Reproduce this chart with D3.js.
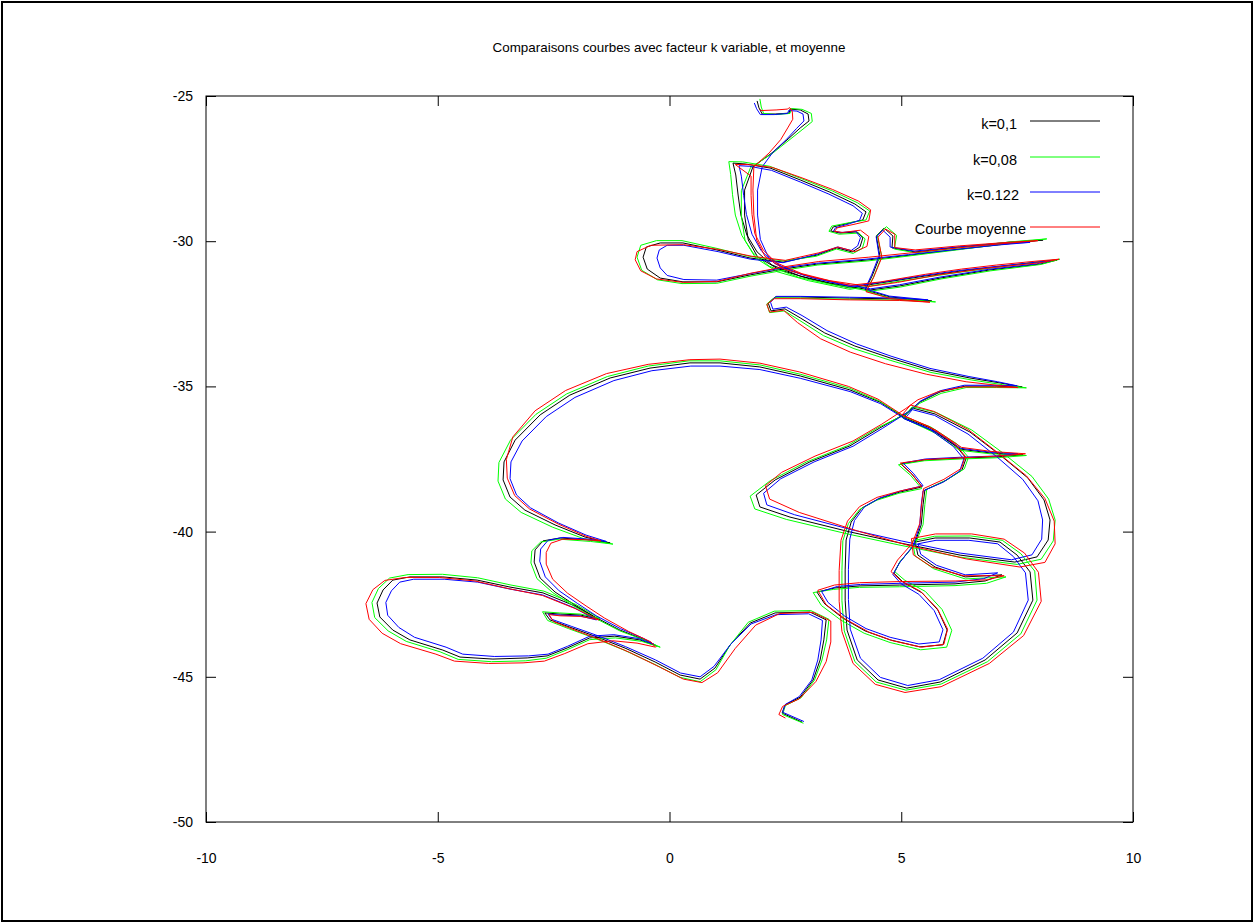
<!DOCTYPE html>
<html>
<head>
<meta charset="utf-8">
<script src="https://cdn.jsdelivr.net/npm/d3@7"></script>
<style>
  body { margin: 0; background: #fff; }
  svg { display: block; }
  text { font-family: "Liberation Sans", Arial, sans-serif; fill: #000; }
</style>
</head>
<body>
<svg id="chart" width="1254" height="923"></svg>
<script>
// Axis ticks
const xTicks = [-10, -5, 0, 5, 10];
const yTicks = [-25, -30, -35, -40, -45, -50];

// Trajectory, k = 0,1
const curveK010 = [
  [1.89,-25.17],[1.93,-25.41],[2.00,-25.62],[2.28,-25.62],[2.58,-25.59],[2.60,-25.45],[2.82,-25.48],[2.99,-25.62],[3.01,-25.86],[2.82,-26.10],
  [2.56,-26.48],[2.21,-26.96],[1.80,-27.44],[1.62,-28.24],[1.62,-29.10],[1.70,-29.96],[1.90,-30.54],[2.38,-30.99],[3.03,-31.30],[3.89,-31.61],
  [4.54,-31.44],[5.51,-31.20],[6.27,-31.03],[7.02,-30.89],[7.78,-30.75],[8.36,-30.65],[7.99,-30.79],[6.91,-30.99],[5.84,-31.27],[4.97,-31.54],[4.33,-31.68],
  [3.46,-31.44],[2.82,-31.20],[2.21,-30.82],[1.89,-30.37],[1.67,-29.79],[1.54,-29.10],[1.48,-28.41],[1.43,-27.72],[1.37,-27.31],[1.63,-27.34],
  [2.17,-27.48],[2.82,-27.89],[3.46,-28.31],[4.00,-28.72],[4.24,-28.99],[4.17,-29.27],[3.89,-29.37],[3.53,-29.51],[3.48,-29.65],[3.68,-29.72],
  [4.05,-29.68],[4.17,-29.89],[4.11,-30.20],[3.94,-30.37],[3.61,-30.23],[3.18,-30.48],
  [2.45,-30.72],[1.74,-30.58],[1.02,-30.30],[0.29,-30.06],[-0.20,-30.06],[-0.50,-30.20],[-0.57,-30.55],[-0.48,-30.96],[-0.20,-31.27],[0.29,-31.40],
  [1.02,-31.40],[1.74,-31.16],[2.45,-30.96],[3.18,-30.79],[4.26,-30.65],[5.19,-30.48],[6.27,-30.27],[7.24,-30.10],[8.06,-29.96],[7.35,-30.03],
  [6.27,-30.20],[5.30,-30.37],[4.80,-30.23],[4.82,-29.82],[4.63,-29.55],[4.46,-29.82],[4.54,-30.51],[4.37,-31.20],[4.22,-31.68],
  [4.76,-31.92],[5.66,-32.06],[4.97,-31.99],[3.89,-31.96],[2.82,-31.92],[2.28,-31.92],[2.13,-32.13],[2.19,-32.40],[2.49,-32.33],[2.82,-32.64],
  [3.35,-33.16],[4.00,-33.61],[4.76,-34.02],[5.62,-34.44],[6.48,-34.71],[7.13,-34.88],[7.61,-35.02],[7.02,-34.99],[6.38,-34.99],[5.84,-35.19],
  [5.40,-35.54],[5.15,-35.88],
  [4.54,-36.43],[3.89,-37.05],[3.03,-37.60],[2.28,-38.22],[1.87,-38.74],[1.95,-39.15],[2.60,-39.50],[3.89,-40.01],[4.97,-40.39],[6.27,-40.81],
  [7.45,-41.05],[7.93,-40.87],[8.17,-40.29],[8.21,-39.60],[8.08,-38.91],[7.73,-38.15],[7.13,-37.36],[6.48,-36.57],[5.73,-35.95],[5.23,-35.74],[5.04,-36.09],
  [5.73,-36.57],[6.27,-37.16],[6.91,-37.29],[7.63,-37.36],[7.02,-37.43],[6.27,-37.47],[5.51,-37.53],[4.99,-37.67],[5.23,-38.02],[5.45,-38.46],
  [4.97,-38.64],[4.50,-38.88],[4.15,-39.19],[3.92,-39.67],[3.81,-40.29],[3.79,-41.32],[3.79,-42.36],[3.83,-43.39],[4.05,-44.42],[4.50,-45.11],
  [5.12,-45.39],[5.84,-45.18],[6.81,-44.42],[7.50,-43.49],[7.84,-42.36],[7.78,-41.39],[7.50,-40.81],[7.13,-40.36],[6.48,-40.22],[5.73,-40.22],
  [5.30,-40.36],[5.36,-40.81],[5.73,-41.22],[6.38,-41.56],[7.17,-41.49],[6.81,-41.70],[6.16,-41.80],[4.97,-41.84],[4.11,-41.87],[3.57,-41.94],
  [3.18,-42.08],[3.35,-42.49],[3.74,-42.98],[4.22,-43.42],[4.76,-43.73],[5.40,-43.97],[5.90,-43.90],[5.99,-43.39],[5.79,-42.70],[5.45,-42.11],
  [5.04,-41.74],[4.84,-41.43],[4.97,-41.05],[5.28,-40.46],[5.43,-39.77],[5.47,-39.08],[5.51,-38.57],[5.94,-38.26],[6.31,-37.88],[6.40,-37.47],
  [6.16,-37.02],[5.62,-36.43],[5.08,-36.09],
  [4.54,-35.54],[3.89,-35.12],[2.82,-34.64],[1.95,-34.33],[1.09,-34.19],[0.44,-34.19],[-0.42,-34.37],[-1.28,-34.71],[-2.15,-35.30],[-2.79,-35.98],
  [-3.33,-36.85],[-3.57,-37.60],[-3.59,-38.22],[-3.44,-38.81],[-3.12,-39.26],[-2.47,-39.77],[-1.82,-40.19],[-1.28,-40.39],[-1.72,-40.29],[-2.36,-40.22],
  [-2.73,-40.32],[-2.90,-40.63],[-2.92,-41.05],[-2.79,-41.60],[-2.47,-42.08],[-2.04,-42.53],[-1.61,-42.94],[-1.07,-43.39],[-0.53,-43.73],[-0.27,-43.94],
  [-0.64,-43.73],[-1.18,-43.60],[-1.72,-43.66],[-2.21,-44.01],
  [-2.64,-44.28],[-3.07,-44.35],[-3.81,-44.39],[-4.52,-44.32],[-4.89,-44.08],[-5.60,-43.73],[-5.97,-43.39],[-6.25,-42.94],[-6.31,-42.46],[-6.18,-42.01],
  [-5.97,-41.67],[-5.60,-41.56],[-4.89,-41.56],[-4.15,-41.67],[-3.44,-41.91],[-2.73,-42.11],[-2.04,-42.56],[-1.54,-43.01],
  [-1.93,-42.87],[-2.36,-42.84],[-2.69,-42.80],[-2.58,-43.04],[-2.15,-43.29],[-1.61,-43.60],[-0.96,-44.01],[-0.31,-44.49],[0.23,-44.94],[0.66,-45.08],
  [0.98,-44.70],[1.31,-43.90],[1.74,-43.15],[2.28,-42.80],[3.03,-42.77],[3.38,-43.04],[3.33,-43.73],[3.25,-44.42],[3.10,-45.11],[2.82,-45.70],
  [2.49,-45.97],[2.43,-46.25],[2.86,-46.56]
];

// Trajectory, k = 0,08
const curveK008 = [
  [1.95,-25.10],[1.98,-25.38],[2.03,-25.60],[2.30,-25.64],[2.60,-25.60],[2.63,-25.43],[2.86,-25.46],[3.06,-25.60],[3.08,-25.88],[2.88,-26.14],
  [2.58,-26.52],[2.20,-27.00],[1.75,-27.46],[1.55,-28.26],[1.55,-29.12],[1.63,-29.98],[1.86,-30.58],[2.32,-31.05],[3.00,-31.36],[3.89,-31.66],
  [4.56,-31.48],[5.53,-31.24],[6.30,-31.06],[7.06,-30.90],[7.84,-30.74],[8.42,-30.62],[8.02,-30.80],[6.93,-31.02],[5.86,-31.30],[4.98,-31.58],[4.33,-31.72],
  [3.44,-31.47],[2.78,-31.24],[2.15,-30.86],[1.80,-30.40],[1.56,-29.80],[1.42,-29.10],[1.36,-28.40],[1.32,-27.70],[1.28,-27.26],[1.58,-27.27],
  [2.16,-27.42],[2.84,-27.84],[3.50,-28.26],[4.06,-28.68],[4.32,-28.96],[4.24,-29.27],[3.92,-29.35],[3.50,-29.48],[3.44,-29.66],[3.66,-29.76],
  [4.08,-29.72],[4.22,-29.92],[4.16,-30.25],[3.96,-30.42],[3.60,-30.27],[3.16,-30.52],
  [2.45,-30.68],[1.72,-30.52],[1.00,-30.24],[0.27,-29.98],[-0.28,-29.98],[-0.62,-30.14],[-0.70,-30.55],[-0.60,-31.00],[-0.26,-31.33],[0.27,-31.46],
  [1.02,-31.45],[1.76,-31.20],[2.47,-31.00],[3.20,-30.82],[4.28,-30.68],[5.21,-30.50],[6.30,-30.28],[7.28,-30.08],[8.14,-29.92],[7.38,-30.02],
  [6.29,-30.22],[5.32,-30.40],[4.85,-30.27],[4.90,-29.80],[4.68,-29.50],[4.48,-29.80],[4.58,-30.52],[4.40,-31.24],[4.24,-31.72],
  [4.78,-31.96],[5.74,-32.09],[4.99,-32.03],[3.90,-32.00],[2.82,-31.96],[2.26,-31.95],[2.10,-32.16],[2.16,-32.46],[2.48,-32.40],[2.80,-32.72],
  [3.32,-33.25],[3.98,-33.70],[4.76,-34.10],[5.64,-34.52],[6.52,-34.78],[7.18,-34.94],[7.70,-35.05],[7.06,-35.04],[6.40,-35.04],[5.86,-35.24],
  [5.40,-35.58],[5.14,-35.92],
  [4.50,-36.42],[3.84,-37.04],[2.96,-37.60],[2.18,-38.24],[1.74,-38.78],[1.84,-39.22],[2.52,-39.58],[3.84,-40.08],[4.95,-40.46],[6.27,-40.88],
  [7.50,-41.13],[8.02,-40.95],[8.28,-40.32],[8.32,-39.60],[8.18,-38.88],[7.82,-38.10],[7.20,-37.30],[6.52,-36.50],[5.76,-35.90],[5.24,-35.70],[5.03,-36.08],
  [5.72,-36.60],[6.26,-37.20],[6.92,-37.32],[7.70,-37.38],[7.04,-37.46],[6.27,-37.50],[5.50,-37.56],[4.94,-37.70],[5.20,-38.06],[5.44,-38.52],
  [4.95,-38.68],[4.47,-38.92],[4.10,-39.24],[3.86,-39.72],[3.74,-40.32],[3.72,-41.34],[3.72,-42.38],[3.77,-43.42],[4.00,-44.48],[4.46,-45.18],
  [5.10,-45.46],[5.86,-45.25],[6.86,-44.48],[7.58,-43.52],[7.93,-42.36],[7.88,-41.36],[7.58,-40.76],[7.18,-40.30],[6.50,-40.15],[5.72,-40.16],
  [5.24,-40.32],[5.30,-40.84],[5.70,-41.28],[6.38,-41.63],[7.26,-41.56],[6.84,-41.78],[6.16,-41.86],[4.96,-41.90],[4.10,-41.92],[3.54,-41.99],
  [3.10,-42.10],[3.28,-42.55],[3.70,-43.05],[4.20,-43.50],[4.76,-43.82],[5.42,-44.07],[5.98,-43.98],[6.09,-43.40],[5.88,-42.68],[5.52,-42.06],
  [5.08,-41.68],[4.86,-41.38],[4.98,-41.02],[5.30,-40.44],[5.47,-39.76],[5.51,-39.06],[5.55,-38.54],[5.98,-38.22],[6.36,-37.84],[6.45,-37.44],
  [6.20,-36.98],[5.64,-36.40],[5.08,-36.06],
  [4.52,-35.50],[3.88,-35.06],[2.82,-34.58],[1.95,-34.26],[1.09,-34.12],[0.42,-34.12],[-0.46,-34.30],[-1.34,-34.66],[-2.22,-35.26],[-2.88,-35.96],
  [-3.43,-36.85],[-3.68,-37.62],[-3.70,-38.26],[-3.54,-38.88],[-3.20,-39.34],[-2.52,-39.85],[-1.84,-40.25],[-1.22,-40.43],[-1.70,-40.34],[-2.38,-40.26],
  [-2.78,-40.36],[-2.97,-40.66],[-2.99,-41.08],[-2.86,-41.62],[-2.52,-42.10],[-2.08,-42.55],[-1.63,-42.96],[-1.07,-43.42],[-0.50,-43.76],[-0.20,-43.98],
  [-0.60,-43.78],[-1.17,-43.66],[-1.72,-43.72],[-2.21,-44.07],
  [-2.66,-44.36],[-3.10,-44.45],[-3.84,-44.48],[-4.56,-44.40],[-4.95,-44.14],[-5.68,-43.78],[-6.07,-43.42],[-6.36,-42.96],[-6.42,-42.44],[-6.28,-41.96],
  [-6.04,-41.60],[-5.64,-41.48],[-4.90,-41.47],[-4.14,-41.59],[-3.42,-41.84],[-2.71,-42.05],[-2.02,-42.51],[-1.50,-42.99],
  [-1.92,-42.84],[-2.38,-42.80],[-2.74,-42.76],[-2.63,-43.06],[-2.18,-43.34],[-1.63,-43.66],[-0.98,-44.08],[-0.32,-44.57],[0.23,-45.02],[0.66,-45.17],
  [1.00,-44.76],[1.30,-43.92],[1.70,-43.12],[2.26,-42.74],[3.05,-42.72],[3.44,-43.02],[3.39,-43.73],[3.29,-44.42],[3.13,-45.11],[2.84,-45.72],
  [2.50,-45.99],[2.44,-46.30],[2.89,-46.60]
];

// Trajectory, k = 0.122
const curveK0122 = [
  [1.83,-25.24],[1.88,-25.44],[1.96,-25.64],[2.26,-25.64],[2.55,-25.60],[2.57,-25.50],[2.75,-25.52],[2.88,-25.62],[2.90,-25.86],[2.74,-26.12],
  [2.52,-26.50],[2.22,-26.96],[2.00,-27.44],[1.90,-28.24],[1.90,-29.10],[1.96,-29.94],[2.12,-30.50],[2.46,-30.94],[3.08,-31.26],[3.90,-31.56],
  [4.54,-31.42],[5.49,-31.18],[6.24,-31.01],[6.98,-30.88],[7.70,-30.76],[8.26,-30.66],[7.92,-30.78],[6.88,-30.97],[5.82,-31.24],[4.96,-31.50],[4.34,-31.64],
  [3.48,-31.40],[2.86,-31.15],[2.27,-30.77],[1.98,-30.33],[1.78,-29.76],[1.66,-29.08],[1.60,-28.42],[1.55,-27.76],[1.50,-27.40],[1.72,-27.42],
  [2.20,-27.56],[2.82,-27.96],[3.44,-28.38],[3.96,-28.78],[4.16,-29.04],[4.10,-29.28],[3.88,-29.40],[3.58,-29.54],[3.54,-29.65],[3.70,-29.70],
  [4.02,-29.66],[4.12,-29.88],[4.06,-30.16],[3.92,-30.32],[3.62,-30.20],[3.20,-30.44],
  [2.45,-30.74],[1.75,-30.62],[1.05,-30.36],[0.31,-30.14],[-0.05,-30.14],[-0.22,-30.30],[-0.27,-30.58],[-0.20,-30.92],[-0.05,-31.18],[0.31,-31.32],
  [1.02,-31.34],[1.73,-31.12],[2.44,-30.92],[3.17,-30.76],[4.24,-30.62],[5.16,-30.46],[6.22,-30.28],[7.10,-30.13],[7.78,-30.04],[7.20,-30.08],
  [6.22,-30.20],[5.28,-30.34],[4.76,-30.20],[4.76,-29.86],[4.60,-29.62],[4.46,-29.86],[4.52,-30.50],[4.36,-31.16],[4.22,-31.64],
  [4.74,-31.89],[5.58,-32.02],[4.95,-31.96],[3.88,-31.93],[2.82,-31.90],[2.30,-31.90],[2.18,-32.10],[2.23,-32.34],[2.52,-32.27],[2.86,-32.56],
  [3.40,-33.08],[4.04,-33.54],[4.78,-33.96],[5.62,-34.38],[6.46,-34.66],[7.08,-34.84],[7.50,-34.98],[6.98,-34.96],[6.36,-34.96],[5.84,-35.15],
  [5.42,-35.50],[5.18,-35.85],
  [4.60,-36.44],[3.96,-37.06],[3.12,-37.60],[2.40,-38.18],[2.03,-38.68],[2.10,-39.08],[2.70,-39.42],[3.94,-39.94],[5.00,-40.32],[6.27,-40.74],
  [7.38,-40.97],[7.82,-40.80],[8.03,-40.26],[8.05,-39.60],[7.95,-38.94],[7.62,-38.20],[7.06,-37.42],[6.44,-36.64],[5.72,-36.00],[5.24,-35.80],[5.07,-36.12],
  [5.74,-36.56],[6.28,-37.13],[6.90,-37.26],[7.52,-37.32],[7.00,-37.40],[6.27,-37.44],[5.52,-37.50],[5.04,-37.64],[5.26,-37.99],[5.47,-38.42],
  [4.99,-38.60],[4.54,-38.84],[4.21,-39.14],[3.99,-39.62],[3.89,-40.26],[3.86,-41.30],[3.86,-42.34],[3.90,-43.36],[4.12,-44.36],[4.55,-45.02],
  [5.14,-45.30],[5.82,-45.10],[6.76,-44.36],[7.42,-43.46],[7.74,-42.36],[7.68,-41.42],[7.42,-40.86],[7.08,-40.42],[6.46,-40.30],[5.75,-40.30],
  [5.36,-40.42],[5.42,-40.78],[5.76,-41.16],[6.38,-41.49],[7.08,-41.42],[6.78,-41.62],[6.16,-41.74],[4.98,-41.78],[4.12,-41.82],[3.62,-41.89],
  [3.28,-42.06],[3.42,-42.44],[3.78,-42.91],[4.24,-43.34],[4.76,-43.64],[5.38,-43.87],[5.82,-43.80],[5.90,-43.38],[5.71,-42.72],[5.38,-42.16],
  [5.00,-41.80],[4.82,-41.48],[4.96,-41.08],[5.26,-40.48],[5.40,-39.78],[5.43,-39.10],[5.47,-38.60],[5.90,-38.30],[6.26,-37.92],[6.35,-37.50],
  [6.12,-37.06],[5.60,-36.46],[5.08,-36.12],
  [4.56,-35.60],[3.90,-35.18],[2.82,-34.72],[1.95,-34.42],[1.09,-34.30],[0.46,-34.30],[-0.38,-34.46],[-1.20,-34.80],[-2.04,-35.38],[-2.66,-36.04],
  [-3.18,-36.88],[-3.42,-37.60],[-3.44,-38.18],[-3.30,-38.74],[-3.00,-39.18],[-2.40,-39.70],[-1.80,-40.12],[-1.36,-40.34],[-1.75,-40.26],[-2.30,-40.20],
  [-2.62,-40.30],[-2.78,-40.60],[-2.80,-41.02],[-2.68,-41.56],[-2.38,-42.04],[-1.98,-42.48],[-1.58,-42.90],[-1.06,-43.34],[-0.56,-43.68],[-0.34,-43.88],
  [-0.68,-43.68],[-1.20,-43.55],[-1.72,-43.60],[-2.20,-43.95],
  [-2.62,-44.22],[-3.04,-44.28],[-3.78,-44.30],[-4.46,-44.22],[-4.82,-43.98],[-5.50,-43.64],[-5.84,-43.30],[-6.08,-42.88],[-6.12,-42.44],[-6.00,-42.04],
  [-5.82,-41.74],[-5.52,-41.64],[-4.86,-41.64],[-4.14,-41.74],[-3.44,-41.98],[-2.74,-42.18],[-2.06,-42.62],[-1.58,-43.04],
  [-1.94,-42.90],[-2.34,-42.88],[-2.62,-42.84],[-2.54,-43.02],[-2.12,-43.26],[-1.59,-43.56],[-0.95,-43.96],[-0.30,-44.42],[0.24,-44.87],[0.66,-45.00],
  [0.96,-44.64],[1.32,-43.88],[1.76,-43.18],[2.30,-42.86],[3.00,-42.83],[3.30,-43.06],[3.27,-43.73],[3.20,-44.42],[3.07,-45.11],[2.80,-45.68],
  [2.50,-45.95],[2.44,-46.22],[2.90,-46.54]
];

// Averaged trajectory
const curveMean = [
  [1.95,-25.45],[1.97,-25.50],[2.00,-25.50],[2.30,-25.48],[2.55,-25.45],[2.58,-25.40],[2.62,-25.44],[2.65,-25.55],[2.66,-25.80],[2.55,-26.10],
  [2.40,-26.50],[2.15,-26.96],[1.82,-27.44],[1.80,-28.24],[1.82,-29.10],[1.88,-29.96],[2.06,-30.52],[2.45,-30.95],[3.10,-31.24],[3.90,-31.52],
  [4.56,-31.40],[5.52,-31.14],[6.30,-30.96],[7.06,-30.82],[7.82,-30.70],[8.40,-30.62],[8.00,-30.74],[6.90,-30.92],[5.80,-31.16],[4.92,-31.42],[4.30,-31.56],
  [3.46,-31.36],[2.86,-31.12],[2.30,-30.74],[2.02,-30.30],[1.84,-29.74],[1.78,-29.08],[1.76,-28.42],[1.76,-27.76],[1.42,-27.36],[1.70,-27.36],
  [2.22,-27.46],[2.86,-27.82],[3.52,-28.22],[4.08,-28.62],[4.34,-28.92],[4.30,-29.30],[3.98,-29.42],[3.62,-29.54],[3.56,-29.66],[3.74,-29.70],
  [4.12,-29.62],[4.30,-29.84],[4.26,-30.18],[4.00,-30.36],[3.64,-30.20],[3.22,-30.40],
  [2.50,-30.66],[1.78,-30.52],[1.05,-30.28],[0.30,-30.12],[-0.40,-30.14],[-0.70,-30.36],[-0.74,-30.64],[-0.62,-31.02],[-0.28,-31.30],[0.30,-31.42],
  [1.04,-31.38],[1.76,-31.10],[2.48,-30.88],[3.22,-30.70],[4.30,-30.55],[5.22,-30.40],[6.28,-30.22],[7.20,-30.08],[7.95,-29.98],[7.30,-30.04],
  [6.26,-30.16],[5.30,-30.30],[4.86,-30.22],[4.86,-29.76],[4.66,-29.58],[4.50,-29.86],[4.58,-30.56],[4.40,-31.26],[4.24,-31.74],
  [4.78,-31.98],[5.62,-32.10],[4.96,-32.04],[3.88,-32.02],[2.82,-31.98],[2.26,-31.98],[2.10,-32.18],[2.16,-32.44],[2.46,-32.38],[2.76,-32.80],
  [3.26,-33.36],[3.90,-33.82],[4.66,-34.22],[5.54,-34.58],[6.40,-34.84],[7.06,-34.96],[7.52,-35.04],[6.96,-35.02],[6.34,-35.02],[5.80,-35.18],
  [5.36,-35.46],[5.10,-35.76],
  [4.58,-36.30],[3.96,-36.88],[3.14,-37.40],[2.42,-37.96],[2.07,-38.42],[2.16,-38.88],[2.80,-39.34],[4.06,-39.98],[5.12,-40.46],[6.40,-40.94],
  [7.56,-41.22],[8.10,-41.06],[8.32,-40.42],[8.30,-39.64],[8.10,-38.86],[7.70,-38.08],[7.08,-37.28],[6.44,-36.48],[5.70,-35.86],[5.20,-35.64],[5.02,-35.98],
  [5.74,-36.50],[6.30,-37.10],[6.94,-37.24],[7.68,-37.32],[7.05,-37.40],[6.28,-37.46],[5.52,-37.52],[4.98,-37.64],[5.22,-38.00],[5.44,-38.44],
  [4.98,-38.60],[4.48,-38.82],[4.10,-39.14],[3.84,-39.64],[3.70,-40.30],[3.66,-41.34],[3.66,-42.40],[3.72,-43.44],[3.96,-44.54],[4.44,-45.26],
  [5.08,-45.54],[5.86,-45.34],[6.90,-44.54],[7.64,-43.58],[8.02,-42.40],[7.96,-41.40],[7.66,-40.74],[7.22,-40.26],[6.52,-40.08],[5.74,-40.08],
  [5.22,-40.24],[5.26,-40.80],[5.66,-41.22],[6.34,-41.52],[7.22,-41.52],[6.86,-41.66],[6.18,-41.70],[4.98,-41.72],[4.10,-41.76],[3.56,-41.84],
  [3.20,-42.02],[3.38,-42.52],[3.80,-43.02],[4.30,-43.46],[4.82,-43.76],[5.44,-43.98],[5.92,-43.88],[6.00,-43.36],[5.78,-42.66],[5.42,-42.06],
  [5.00,-41.70],[4.78,-41.38],[4.92,-40.98],[5.24,-40.40],[5.40,-39.72],[5.44,-39.04],[5.48,-38.52],[5.92,-38.20],[6.30,-37.82],[6.38,-37.40],
  [6.14,-36.96],[5.60,-36.38],[5.06,-36.02],
  [4.50,-35.44],[3.86,-35.00],[2.80,-34.50],[1.95,-34.20],[1.09,-34.06],[0.44,-34.08],[-0.46,-34.24],[-1.36,-34.56],[-2.24,-35.14],[-2.90,-35.84],
  [-3.38,-36.74],[-3.52,-37.52],[-3.50,-38.16],[-3.34,-38.76],[-3.02,-39.22],[-2.40,-39.74],[-1.80,-40.16],[-1.48,-40.32],[-1.80,-40.28],[-2.30,-40.26],
  [-2.56,-40.40],[-2.66,-40.72],[-2.66,-41.12],[-2.52,-41.64],[-2.20,-42.12],[-1.80,-42.56],[-1.40,-42.98],[-0.88,-43.44],[-0.40,-43.80],[-0.30,-43.98],
  [-0.70,-43.84],[-1.22,-43.76],[-1.76,-43.86],[-2.26,-44.20],
  [-2.70,-44.46],[-3.16,-44.52],[-3.90,-44.54],[-4.64,-44.46],[-5.04,-44.22],[-5.80,-43.86],[-6.20,-43.50],[-6.48,-43.02],[-6.55,-42.48],[-6.40,-42.00],
  [-6.14,-41.68],[-5.70,-41.58],[-4.96,-41.58],[-4.20,-41.70],[-3.48,-41.96],[-2.74,-42.20],[-2.02,-42.66],[-1.52,-43.04],
  [-1.92,-42.92],[-2.36,-42.90],[-2.60,-42.86],[-2.50,-43.10],[-2.06,-43.38],[-1.50,-43.72],[-0.86,-44.16],[-0.22,-44.66],[0.30,-45.08],[0.70,-45.20],
  [1.04,-44.86],[1.42,-44.02],[1.86,-43.22],[2.38,-42.82],[3.10,-42.78],[3.48,-43.08],[3.48,-43.80],[3.38,-44.48],[3.16,-45.16],[2.80,-45.76],
  [2.44,-46.02],[2.36,-46.30],[2.50,-46.42]
];

const seriesNames = ["k=0,1", "k=0,08", "k=0.122", "Courbe moyenne"];
const seriesColors = ["#000000", "#00ff00", "#0000ff", "#ff0000"];
const seriesData = [curveK010, curveK008, curveK0122, curveMean];

const W = 1254, H = 923;
const svg = d3.select("#chart");

// Outer border of the figure
svg.append("rect").attr("x", 2).attr("y", 2).attr("width", W - 4).attr("height", H - 4)
  .attr("fill", "none").attr("stroke", "#000").attr("stroke-width", 2);

const x = d3.scaleLinear().domain([-10, 10]).range([206, 1133]);
const y = d3.scaleLinear().domain([-50, -25]).range([822, 96]);

// Title
svg.append("text").attr("x", 669).attr("y", 52).attr("text-anchor", "middle")
  .style("font-size", "13.4px").text("Comparaisons courbes avec facteur k variable, et moyenne");

// Axes with inward ticks, mirrored on all four sides
const fmt = d => String(d);
const axFont = "14px";
const axLeft = svg.append("g").attr("transform", "translate(206,0)")
  .call(d3.axisLeft(y).tickValues(yTicks).tickFormat(fmt).tickSizeInner(-10).tickSizeOuter(0).tickPadding(13));
const axRight = svg.append("g").attr("transform", "translate(1133,0)")
  .call(d3.axisRight(y).tickValues(yTicks).tickSizeInner(-10).tickSizeOuter(0).tickFormat(""));
const axBottom = svg.append("g").attr("transform", "translate(0,822)")
  .call(d3.axisBottom(x).tickValues(xTicks).tickFormat(fmt).tickSizeInner(-10).tickSizeOuter(0).tickPadding(31));
const axTop = svg.append("g").attr("transform", "translate(0,96)")
  .call(d3.axisTop(x).tickValues(xTicks).tickSizeInner(-10).tickSizeOuter(0).tickFormat(""));
[axLeft, axRight, axBottom, axTop].forEach(g => {
  g.select(".domain").remove();
  g.selectAll("line").attr("stroke", "#000");
  g.selectAll("text").style("font-size", axFont).attr("font-family", "Liberation Sans, Arial, sans-serif");
});

// Plot frame
svg.append("rect").attr("x", 206).attr("y", 96).attr("width", 1133 - 206).attr("height", 822 - 96)
  .attr("fill", "none").attr("stroke", "#000").attr("stroke-width", 1);

// Curves, drawn in series order so the mean ends up on top
const line = d3.line().x(d => x(d[0])).y(d => y(d[1]));
const plot = svg.append("g");
seriesData.forEach((s, i) => {
  plot.append("path").attr("d", line(s)).attr("fill", "none")
    .attr("stroke", seriesColors[i]).attr("stroke-width", 1);
});

// Legend
const legendY = [121, 157, 192, 227];
const legendTextRight = [1017, 1017, 1019, 1026];
const legend = svg.append("g");
seriesNames.forEach((n, i) => {
  legend.append("text").attr("x", legendTextRight[i]).attr("y", legendY[i] + (i === 3 ? 7 : 8))
    .attr("text-anchor", "end").style("font-size", "14.5px").text(n);
  legend.append("line").attr("x1", 1030).attr("x2", 1100).attr("y1", legendY[i]).attr("y2", legendY[i])
    .attr("stroke", seriesColors[i]).attr("stroke-width", 1);
});
</script>
</body>
</html>
